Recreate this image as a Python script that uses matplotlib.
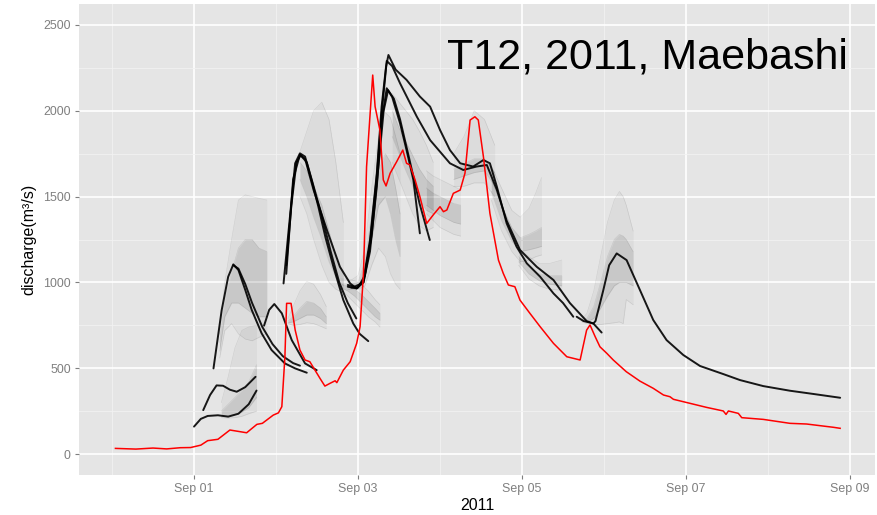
import datetime
import matplotlib
matplotlib.use('Agg')
import matplotlib.pyplot as plt
import matplotlib.dates as mdates
import numpy as np

plt.rcParams['font.family'] = ['Liberation Sans', 'DejaVu Sans']

# hours after 2011-09-01 00:00
obs_h = [-23, -17, -12, -8, -4, -1, 2, 4, 7, 10.5, 13, 15.4, 18.4, 20, 23.2, 24.7, 25.7, 26.6, 27.1,
         28.4, 29.6, 31, 32.5, 33.9, 35.4, 36.9, 38.3, 39.8, 41.3, 41.8, 43.7, 45.7, 47.6, 48.6, 49.6,
         50.5, 52.3, 53, 54.4, 55.4, 56.2, 57.4, 59.3, 61.1, 62.2, 63.2, 64.7, 66.1, 68.1, 70, 72, 73,
         74, 75.9, 77.9, 79.3, 80.8, 82.2, 83.2, 84.7, 86.6, 89.1, 90.5, 92, 93.9, 95.4, 98.3, 101.3,
         105.2, 109.1, 113, 114.9, 115.9, 117.4, 118.8, 120.8, 122.7, 126.5, 130.5, 134.4, 137.4,
         139.3, 140.3, 143.2, 150, 154.9, 155.7, 156.4, 159.3, 160.3, 166.6, 174.4, 179.3, 184.2,
         187.1, 189.1]
obs_q = [33, 29, 35, 30, 37, 38, 52, 78, 86, 140, 132, 124, 173, 179, 227, 240, 276, 567, 878,
         878, 723, 606, 548, 538, 489, 440, 396, 412, 427, 416, 489, 538, 645, 742, 1053,
         1674, 2208, 2024, 1888, 1597, 1562, 1636, 1703, 1771, 1694, 1684, 1597, 1500, 1344, 1393, 1441, 1412,
         1422, 1519, 1538, 1636, 1946, 1965, 1946, 1732, 1402, 1130, 1053, 985, 975, 897, 820, 742,
         645, 567, 548, 722, 752, 684, 625, 587, 548, 480, 425, 383, 344,
         334, 319, 305, 272, 251, 231, 251, 237, 212, 202, 179, 175, 163,
         156, 150]

# black forecast lines: (hours, discharge)
run_a = ([0, 2, 4, 7, 10, 13, 16, 18.3], [160, 205, 222, 226, 218, 235, 290, 370])
run_b = ([2.7, 4.7, 6.6, 8.5, 10.5, 12.5, 15, 18], [256, 344, 400, 398, 375, 363, 390, 450])
run_c = ([5.7, 8.1, 10, 11.5, 13, 15, 16.9, 19.8, 22.7, 26.6, 29.6, 33],
         [499, 839, 1033, 1105, 1072, 956, 839, 703, 606, 528, 499, 474])
run_c2 = ([11.5, 13, 15, 17, 20, 23, 26, 29, 31], [1100, 1080, 990, 880, 740, 640, 570, 530, 515])
run_d = ([20.5, 22, 23.5, 25.7, 28.6, 32.5, 35.9], [748, 840, 874, 820, 664, 528, 489])
run_e2 = ([26.2, 27.6, 29.6, 31, 32.5, 34.4, 36.4, 38.5, 40.8, 43.7, 46.6, 48.5, 51],
          [994, 1286, 1694, 1752, 1733, 1597, 1440, 1260, 1091, 897, 761, 700, 658])
run_e3 = ([27, 29, 31, 33, 35, 37.5, 40, 42.5, 45, 47.5],
          [1050, 1600, 1745, 1700, 1560, 1380, 1180, 1000, 880, 790])
run_e1 = ([27, 28.5, 30, 31.2, 32.5, 35, 38.9, 42.7, 45.7, 47.6, 49.6, 51.5, 53.5, 54.9, 56.2, 56.9,
           59, 62.2, 66.1, 69.1, 72, 74.9, 77.9, 81.7, 84.7, 86.6, 88.6, 91.5, 94.4, 97.4, 101.3,
           105.2, 108, 111],
          [1100, 1450, 1700, 1740, 1720, 1538, 1305, 1091, 994, 965, 1014, 1247, 1636, 2024, 2257, 2325,
           2240, 2180, 2083, 2024, 1888, 1771, 1694, 1675, 1713, 1694, 1560, 1344, 1208, 1111, 1033,
           936, 880, 800])
run_f1 = ([45, 47, 49.6, 51.5, 53.5, 55, 56.4, 58, 60.3, 65.2, 69.1, 74.9, 78.8, 82.7, 85.7, 88.6,
           91.5, 95.4, 100.3, 105.2, 110, 114.9, 116.9, 119.3],
          [985, 975, 1000, 1220, 1620, 2000, 2290, 2260, 2160, 1966, 1829, 1694, 1655, 1675, 1684, 1540,
           1360, 1189, 1091, 1014, 880, 775, 760, 708])
run_f2 = ([45, 47.6, 49.6, 51.5, 53.5, 55, 56.4, 58, 60.3, 62.2, 64.2, 66.1],
          [975, 965, 1000, 1180, 1560, 1950, 2131, 2080, 1927, 1771, 1597, 1286])
run_f3 = ([46, 48, 50, 52, 54, 55.5, 56.8, 58.5, 60.3, 63, 66, 69],
          [970, 970, 1040, 1280, 1680, 2000, 2120, 2070, 1950, 1720, 1460, 1247])
run_g = ([112, 114, 116.9, 117.5, 119.8, 121.5, 123.7, 126.6, 130.5, 134.4, 138.3, 143.2, 148.1,
          154.9, 159.8, 166.6, 174.4, 181.3, 189.1],
         [800, 775, 761, 775, 956, 1100, 1169, 1130, 956, 781, 664, 577, 513,
          466, 431, 396, 369, 350, 328])

# ensemble spreads: hours, outer low, core low, core high, outer high
ens_1 = ([8, 10, 12, 14, 16, 18.3],
         [212, 210, 212, 220, 235, 250],
         [222, 225, 232, 245, 270, 330],
         [250, 290, 330, 370, 420, 520],
         [300, 450, 620, 720, 740, 750])
ens_2 = ([7.5, 9, 11, 13, 15, 17, 19, 21.3],
         [560, 720, 760, 700, 670, 660, 680, 700],
         [600, 800, 880, 880, 850, 820, 800, 800],
         [650, 900, 1060, 1200, 1250, 1250, 1200, 1180],
         [700, 1000, 1250, 1480, 1510, 1500, 1490, 1480])
ens_3 = ([27.5, 29, 31, 33, 35, 37, 38.7],
         [760, 750, 755, 765, 760, 745, 730],
         [765, 770, 790, 810, 810, 790, 760],
         [775, 800, 850, 890, 880, 850, 800],
         [790, 860, 950, 1005, 990, 930, 860])
ens_4 = ([31, 33, 35, 37.4, 39.5, 41.5, 43.7],
         [1500, 1400, 1250, 1100, 1000, 960, 940],
         [1600, 1500, 1380, 1250, 1120, 1030, 980],
         [1700, 1650, 1560, 1450, 1300, 1150, 1050],
         [1760, 1880, 2000, 2050, 1950, 1700, 1350])
ens_5 = ([43, 45, 47, 49, 51, 53, 54.4],
         [960, 920, 880, 840, 800, 770, 740],
         [970, 950, 920, 880, 840, 800, 780],
         [990, 980, 960, 930, 890, 850, 820],
         [1020, 1020, 1010, 990, 950, 900, 870])
ens_6 = ([45, 48, 50, 52, 54, 56, 57.5, 59, 60.3],
         [960, 960, 980, 1100, 1200, 1150, 1050, 990, 960],
         [970, 980, 1050, 1250, 1450, 1500, 1400, 1250, 1150],
         [985, 1000, 1120, 1400, 1650, 1750, 1700, 1550, 1400],
         [1000, 1040, 1200, 1550, 1850, 1990, 1960, 1850, 1750])
ens_7 = ([58, 60, 62, 64, 66, 68, 70],
         [1700, 1600, 1500, 1400, 1330, 1300, 1320],
         [1850, 1750, 1650, 1560, 1480, 1420, 1400],
         [2000, 1900, 1820, 1740, 1660, 1600, 1560],
         [2100, 2050, 2000, 1950, 1880, 1800, 1700])
ens_8 = ([68, 70, 72, 74, 76, 78],
         [1400, 1360, 1320, 1300, 1280, 1270],
         [1450, 1420, 1390, 1370, 1350, 1340],
         [1550, 1520, 1500, 1480, 1460, 1450],
         [1650, 1620, 1600, 1580, 1560, 1540])
ens_9 = ([76, 79, 82, 85, 88],
         [1560, 1560, 1580, 1580, 1500],
         [1600, 1620, 1640, 1650, 1560],
         [1660, 1690, 1720, 1720, 1640],
         [1750, 1850, 2000, 1950, 1800])
ens_10 = ([87, 90, 93, 95.5, 98, 100, 101.7],
          [1480, 1300, 1180, 1120, 1130, 1150, 1160],
          [1530, 1360, 1240, 1180, 1190, 1200, 1210],
          [1600, 1450, 1320, 1260, 1280, 1300, 1320],
          [1680, 1550, 1420, 1380, 1430, 1520, 1610])
ens_11 = ([95, 98, 101, 104, 107.6],
          [1100, 1020, 980, 960, 955],
          [1120, 1050, 1010, 990, 980],
          [1150, 1090, 1050, 1040, 1040],
          [1200, 1150, 1110, 1110, 1130])
ens_12 = ([113.5, 115, 117, 119, 121, 123, 124.5, 125.6, 126.5, 128.5],
          [770, 760, 755, 755, 760, 765, 770, 760, 900, 870],
          [775, 770, 790, 850, 920, 980, 1000, 1000, 1000, 980],
          [780, 790, 860, 1000, 1150, 1250, 1280, 1270, 1250, 1180],
          [785, 820, 950, 1150, 1350, 1480, 1530, 1500, 1450, 1300])

base = mdates.date2num(datetime.datetime(2011, 9, 1))


def to_x(hours):
    return base + np.asarray(hours, dtype=float) / 24.0


fig = plt.figure(figsize=(8.77, 5.15), dpi=100)
ax = fig.add_axes([79 / 877, 40 / 515, 796 / 877, 471 / 515])
ax.set_facecolor('#E5E5E5')

# ensemble members, drawn as faint bands
for h, lo, clo, chi, hi in [ens_1, ens_2, ens_3, ens_4, ens_5, ens_6, ens_7, ens_8, ens_9,
                            ens_10, ens_11, ens_12]:
    x = to_x(h)
    ax.fill_between(x, lo, hi, color='black', alpha=0.04, lw=0)
    ax.fill_between(x, clo, chi, color='black', alpha=0.09, lw=0)
    for y in (lo, clo, chi, hi):
        ax.plot(x, y, color='black', alpha=0.09, lw=0.5)

for h, q in [run_a, run_b, run_c, run_c2, run_d, run_e2, run_e3, run_e1, run_f1, run_f2, run_f3, run_g]:
    ax.plot(to_x(h), q, color='black', lw=1.4, alpha=0.9, solid_capstyle='round',
            solid_joinstyle='round')

ax.plot(to_x(obs_h), obs_q, color='#FF0000', lw=1.1)

ax.text(to_x(74), 2249, 'T12, 2011, Maebashi', fontsize=31, color='black', va='baseline', ha='left')

ax.set_xlim(to_x(-33.66), to_x(199.3))
ax.set_ylim(-122, 2622)
ax.xaxis.set_major_locator(mdates.DayLocator(bymonthday=[1, 3, 5, 7, 9]))
ax.xaxis.set_minor_locator(mdates.DayLocator(bymonthday=[31, 2, 4, 6, 8]))
ax.xaxis.set_major_formatter(mdates.DateFormatter('%b %d'))
ax.set_yticks([0, 500, 1000, 1500, 2000, 2500])
ax.set_yticks([250, 750, 1250, 1750, 2250], minor=True)

ax.grid(which='major', color='white', lw=1.2)
ax.grid(which='minor', color='#F2F2F2', lw=0.6)
ax.set_axisbelow(True)
for s in ax.spines.values():
    s.set_visible(False)
ax.tick_params(which='major', length=3, width=0.8, color='#7F7F7F', labelcolor='#7F7F7F',
               labelsize=8.9, pad=3)
ax.tick_params(which='minor', length=0)

ax.set_xlabel('2011', fontsize=11.5, labelpad=2)
ax.set_ylabel('discharge(m³/s)', fontsize=11.5, labelpad=5)

fig.savefig('out.png', dpi=100, facecolor='white')
